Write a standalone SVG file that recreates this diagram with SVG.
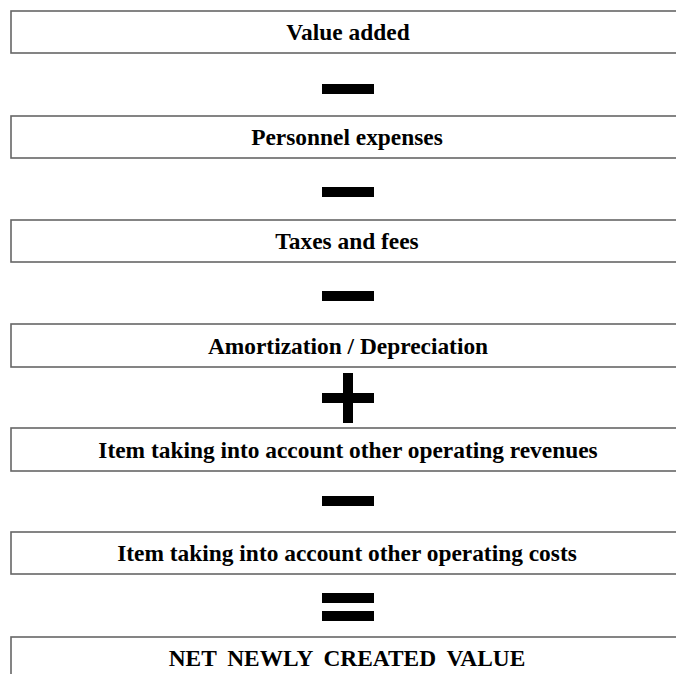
<svg xmlns="http://www.w3.org/2000/svg" width="676" height="674" viewBox="0 0 676 674">
<style>
.box{fill:#fff;stroke:#666;stroke-width:1.6}
.lbl{font-family:"Liberation Serif","Times New Roman",serif;font-weight:bold;font-size:23.4px;fill:#000;text-anchor:middle}
.op{fill:#000}
</style>
<rect width="676" height="674" fill="#fff"/>
<g id="n1"><rect class="box" x="11" y="11" width="700" height="42"/><text class="lbl" x="348" y="40">Value added</text></g>
<g id="n2"><rect class="box" x="11" y="116" width="700" height="42"/><text class="lbl" x="347" y="145">Personnel expenses</text></g>
<g id="n3"><rect class="box" x="11" y="220" width="700" height="42"/><text class="lbl" x="347" y="249">Taxes and fees</text></g>
<g id="n4"><rect class="box" x="11" y="324" width="700" height="43"/><text class="lbl" x="348" y="353.5">Amortization / Depreciation</text></g>
<g id="n5"><rect class="box" x="11" y="428" width="700" height="43"/><text class="lbl" x="348" y="457.5">Item taking into account other operating revenues</text></g>
<g id="n6"><rect class="box" x="11" y="532" width="700" height="42"/><text class="lbl" x="347" y="561">Item taking into account other operating costs</text></g>
<g id="n7"><rect class="box" x="11" y="637" width="700" height="60"/><text class="lbl" x="347" y="666" word-spacing="5">NET NEWLY CREATED VALUE</text></g>
<g id="connectors">
<rect class="op" x="322" y="84" width="52" height="10"/>
<rect class="op" x="322" y="187" width="52" height="10"/>
<rect class="op" x="322" y="291" width="52" height="10"/>
<rect class="op" x="322" y="393" width="52" height="10"/>
<rect class="op" x="343" y="373" width="10" height="50"/>
<rect class="op" x="322" y="496" width="52" height="10"/>
<rect class="op" x="322" y="593" width="52" height="10"/>
<rect class="op" x="322" y="611" width="52" height="10"/>
</g>
</svg>
